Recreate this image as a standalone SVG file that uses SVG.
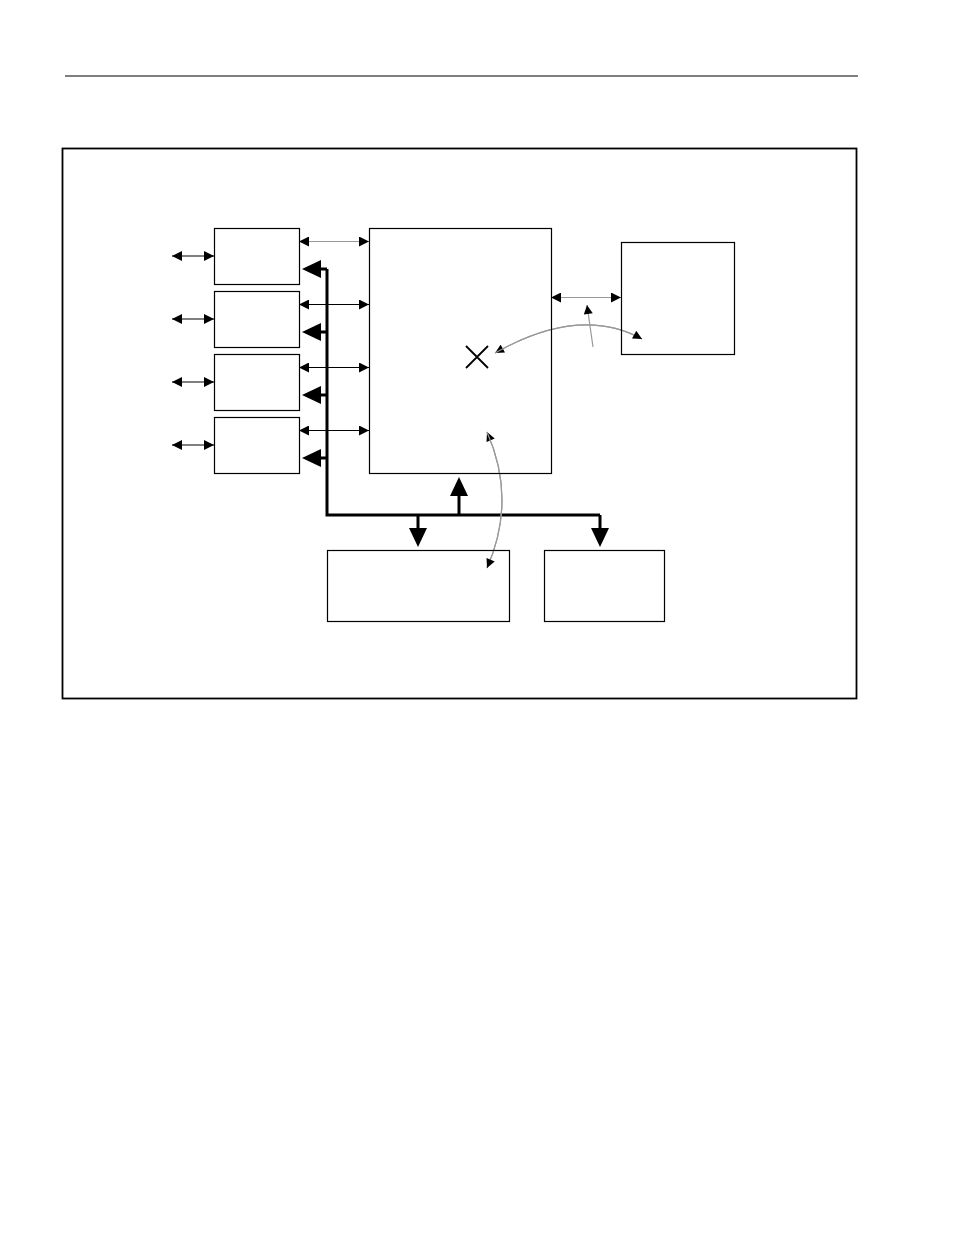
<svg xmlns="http://www.w3.org/2000/svg" width="954" height="1235" viewBox="0 0 954 1235">
<style>
.box{fill:#fff;stroke:#000;stroke-width:1.2}
.thin{fill:none;stroke:#000;stroke-width:1.2}
.gray{fill:none;stroke:#999;stroke-width:1.2}
.bus{fill:none;stroke:#000;stroke-width:3}
.head{fill:#000;stroke:none}
</style>
<defs>
<marker id="sm" viewBox="0 0 10 10" refX="10" refY="5" markerWidth="11" markerHeight="10" markerUnits="userSpaceOnUse" orient="auto-start-reverse"><path d="M0,0 L10,5 L0,10 z" fill="#000"/></marker>
<marker id="cv" viewBox="0 0 10 10" refX="10" refY="5" markerWidth="10" markerHeight="9" markerUnits="userSpaceOnUse" orient="auto"><path d="M0,0 L10,5 L0,10 z" fill="#000"/></marker>
</defs>
<rect width="954" height="1235" fill="#fff"/>
<line x1="65" y1="76" x2="858" y2="76" stroke="#000" stroke-width="1.2"/>
<rect x="62.5" y="148.5" width="794" height="550" fill="none" stroke="#000" stroke-width="1.8"/>

<g id="connectors">
<line class="thin" x1="172" y1="256" x2="214" y2="256" marker-start="url(#sm)" marker-end="url(#sm)"/>
<line class="thin" x1="172" y1="319" x2="214" y2="319" marker-start="url(#sm)" marker-end="url(#sm)"/>
<line class="thin" x1="172" y1="382" x2="214" y2="382" marker-start="url(#sm)" marker-end="url(#sm)"/>
<line class="thin" x1="172" y1="445" x2="214" y2="445" marker-start="url(#sm)" marker-end="url(#sm)"/>
<line class="gray" x1="299" y1="241.5" x2="369" y2="241.5" marker-start="url(#sm)" marker-end="url(#sm)"/>
<line class="thin" x1="299" y1="304.5" x2="369" y2="304.5" marker-start="url(#sm)" marker-end="url(#sm)"/>
<line class="thin" x1="299" y1="367.5" x2="369" y2="367.5" marker-start="url(#sm)" marker-end="url(#sm)"/>
<line class="thin" x1="299" y1="430.5" x2="369" y2="430.5" marker-start="url(#sm)" marker-end="url(#sm)"/>
<line class="gray" x1="551" y1="297.5" x2="621" y2="297.5" marker-start="url(#sm)" marker-end="url(#sm)"/>
<path class="bus" d="M327,269 V515 H600 M459,515 V495 M418,515 V529 M600,515 V529 M321,269 H327 M321,332 H327 M321,395 H327 M321,458 H327"/>
<polygon class="head" points="302,269 321,260 321,278"/>
<polygon class="head" points="302,332 321,323 321,341"/>
<polygon class="head" points="302,395 321,386 321,404"/>
<polygon class="head" points="302,458 321,449 321,467"/>
<polygon class="head" points="459,477 450,496 468,496"/>
<polygon class="head" points="418,547 409,528 427,528"/>
<polygon class="head" points="600,547 591,528 609,528"/>
<path class="gray" d="M642,339 Q580,305 495,353" marker-end="url(#cv)"/>
<path class="gray" d="M495,353 Q580,305 642,339" marker-end="url(#cv)"/>
<path class="gray" d="M593,347 L587,305" marker-end="url(#cv)"/>
<path class="gray" d="M487,568 Q517,500 487,432" marker-end="url(#cv)"/>
<path class="gray" d="M487,432 Q517,500 487,568" marker-end="url(#cv)"/>
</g>

<g id="node-l1"><rect class="box" x="214.5" y="228.5" width="85" height="56"/></g>
<g id="node-l2"><rect class="box" x="214.5" y="291.5" width="85" height="56"/></g>
<g id="node-l3"><rect class="box" x="214.5" y="354.5" width="85" height="56"/></g>
<g id="node-l4"><rect class="box" x="214.5" y="417.5" width="85" height="56"/></g>
<g id="node-center"><rect class="box" x="369.5" y="228.5" width="182" height="245" fill="none" style="fill:none"/>
<path d="M466,346 L488,368 M488,346 L466,368" stroke="#000" stroke-width="1.8"/></g>
<g id="node-right"><rect class="box" x="621.5" y="242.5" width="113" height="112" style="fill:none"/></g>
<g id="node-b1"><rect class="box" x="327.5" y="550.5" width="182" height="71" style="fill:none"/></g>
<g id="node-b2"><rect class="box" x="544.5" y="550.5" width="120" height="71"/></g>
</svg>
